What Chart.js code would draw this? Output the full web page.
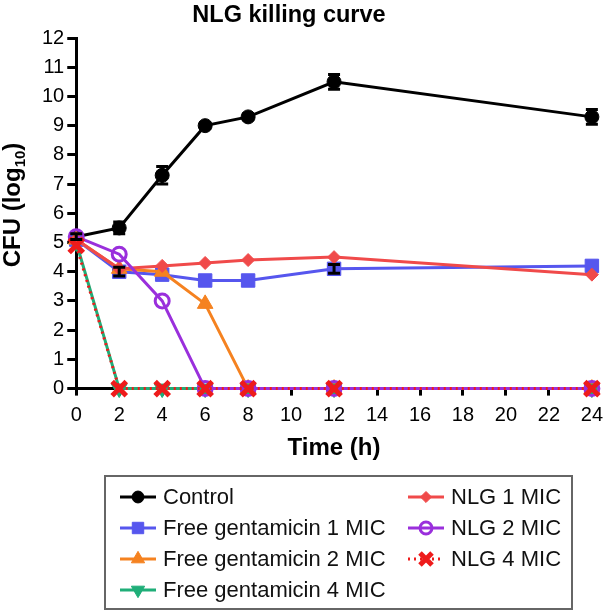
<!DOCTYPE html>
<html>
<head>
<meta charset="utf-8">
<script src="https://cdn.jsdelivr.net/npm/chart.js@4.4.1/dist/chart.umd.min.js"></script>
<style>
  body { margin: 0; background: #fff; font-family: 'Liberation Sans', Arial, sans-serif; }
  #wrap { position: relative; width: 611px; height: 612px; overflow: hidden; }
  #chartBox { position: absolute; left: 0; top: 0; width: 611px; height: 470px; }
  #legend {
    position: absolute; left: 104px; top: 475px; width: 465px; height: 131px;
    border: 2px solid #666;
  }
  .item { position: absolute; display: flex; align-items: center; font-size: 22px; color: #111; height: 24px; white-space: nowrap; }
  .item canvas { margin-right: 5px; }
</style>
</head>
<body>
<div id="wrap">
  <div id="chartBox"><canvas id="chart"></canvas></div>
  <div id="legend"></div>
</div>
<script>
// time points (h)
const hours = [0, 2, 4, 6, 8, 12, 24];
const xTicks = [0, 2, 4, 6, 8, 10, 12, 14, 16, 18, 20, 22, 24];
const yTicks = [0, 1, 2, 3, 4, 5, 6, 7, 8, 9, 10, 11, 12];

// CFU (log10) per group
const control = [5.2, 5.5, 7.3, 9.0, 9.3, 10.5, 9.3];
const controlErr = [0.1, 0.2, 0.3, 0.1, 0.1, 0.25, 0.25];
const freeGenta1 = [5.1, 4.0, 3.9, 3.7, 3.7, 4.1, 4.2];
const freeGenta1Err = [0, 0.15, 0, 0, 0, 0.15, 0];
const freeGenta2 = [5.1, 4.1, 4.0, 2.9, 0, 0, 0];
const freeGenta4 = [5.0, 0, 0, 0, 0, 0, 0];
const nlg1 = [5.1, 4.1, 4.2, 4.3, 4.4, 4.5, 3.9];
const nlg2 = [5.2, 4.6, 3.0, 0, 0, 0, 0];
const nlg4 = [4.9, 0, 0, 0, 0, 0, 0];

function pts(arr) {
    return arr.map((v, i) => ({ x: hours[i], y: v }));
}

const datasets = [
    { label: 'Control', data: pts(control), borderColor: '#000', backgroundColor: '#000',
      pointStyle: 'circle', pointRadius: 7, pointBorderWidth: 1, col: 0, row: 0 },
    { label: 'Free gentamicin 1 MIC', data: pts(freeGenta1), borderColor: '#5656ee', backgroundColor: '#5656ee',
      pointStyle: 'rect', pointRadius: 9.5, pointBorderWidth: 1, col: 0, row: 1 },
    { label: 'Free gentamicin 2 MIC', data: pts(freeGenta2), borderColor: '#f58220', backgroundColor: '#f58220',
      pointStyle: 'triangle', pointRadius: 9, pointBorderWidth: 1, col: 0, row: 2 },
    { label: 'Free gentamicin 4 MIC', data: pts(freeGenta4), borderColor: '#1fae78', backgroundColor: '#1fae78',
      pointStyle: 'triangle', pointRotation: 180, pointRadius: 9, pointBorderWidth: 1, col: 0, row: 3 },
    { label: 'NLG 1 MIC', data: pts(nlg1), borderColor: '#f04a4a', backgroundColor: '#f04a4a',
      pointStyle: 'rectRot', pointRadius: 6.5, pointBorderWidth: 1, col: 1, row: 0 },
    { label: 'NLG 2 MIC', data: pts(nlg2), borderColor: '#9a2fdc', backgroundColor: 'rgba(255,255,255,0)',
      pointStyle: 'circle', pointRadius: 7, pointBorderWidth: 3, col: 1, row: 1 },
    { label: 'NLG 4 MIC', data: pts(nlg4), borderColor: '#ee1b1b', backgroundColor: '#ee1b1b',
      pointStyle: 'crossRot', pointRadius: 10, pointBorderWidth: 5, borderDash: [2, 4], col: 1, row: 2 }
];

datasets.forEach((d, i) => {
    d.borderWidth = 3;
    d.pointBackgroundColor = d.backgroundColor;
    d.pointBorderColor = d.borderColor;
    d.fill = false;
    d.tension = 0;
    d.clip = false;
    d.order = 10 - i; // later groups sit on top, as in the original
});

// black error bars
const errorBars = {
    id: 'errorBars',
    afterDatasetsDraw(chart) {
        const ctx = chart.ctx;
        const ys = chart.scales.y;
        const sets = [[0, control, controlErr], [1, freeGenta1, freeGenta1Err]];
        ctx.save();
        ctx.strokeStyle = '#000';
        ctx.lineWidth = 3;
        sets.forEach(([idx, vals, errs]) => {
            chart.getDatasetMeta(idx).data.forEach((pt, i) => {
                if (!errs[i]) return;
                const top = ys.getPixelForValue(vals[i] + errs[i]);
                const bot = ys.getPixelForValue(vals[i] - errs[i]);
                ctx.beginPath();
                ctx.moveTo(pt.x, top); ctx.lineTo(pt.x, bot);
                ctx.moveTo(pt.x - 6, top); ctx.lineTo(pt.x + 6, top);
                ctx.moveTo(pt.x - 6, bot); ctx.lineTo(pt.x + 6, bot);
                ctx.stroke();
            });
        });
        ctx.restore();
    }
};

// chart title and y axis title (with subscript)
const titles = {
    id: 'titles',
    afterDraw(chart) {
        const ctx = chart.ctx;
        ctx.save();
        ctx.fillStyle = '#000';
        ctx.textAlign = 'center';
        ctx.textBaseline = 'alphabetic';
        ctx.font = 'bold 23.5px "Liberation Sans", Arial';
        ctx.fillText('NLG killing curve', 289, 22);

        ctx.translate(20, 205);
        ctx.rotate(-Math.PI / 2);
        ctx.textAlign = 'left';
        const big = 'bold 24px "Liberation Sans", Arial';
        const small = 'bold 15px "Liberation Sans", Arial';
        ctx.font = big;
        const w1 = ctx.measureText('CFU (log').width;
        const w3 = ctx.measureText(')').width;
        ctx.font = small;
        const w2 = ctx.measureText('10').width;
        let x = -(w1 + w2 + w3) / 2;
        ctx.font = big;
        ctx.fillText('CFU (log', x, 0);
        x += w1;
        ctx.font = small;
        ctx.fillText('10', x, 5);
        x += w2;
        ctx.font = big;
        ctx.fillText(')', x, 0);
        ctx.restore();
    }
};

const chart = new Chart(document.getElementById('chart'), {
    type: 'line',
    data: { datasets: datasets },
    plugins: [errorBars, titles],
    options: {
        responsive: true,
        maintainAspectRatio: false,
        animation: false,
        layout: { padding: { left: 39, right: 0, top: 38, bottom: 4 } },
        plugins: {
            legend: { display: false },
            tooltip: { enabled: false },
            title: { display: false }
        },
        scales: {
            x: {
                type: 'linear',
                min: 0, max: 24,
                afterBuildTicks: axis => { axis.ticks = xTicks.map(v => ({ value: v })); },
                grid: { drawOnChartArea: false, drawTicks: true, tickLength: 7, tickWidth: 3, tickColor: '#000' },
                border: { color: '#000', width: 3 },
                ticks: { color: '#000', font: { family: 'Liberation Sans', size: 20 }, padding: 8, maxRotation: 0 },
                title: { display: true, text: 'Time (h)', color: '#000',
                         font: { family: 'Liberation Sans', size: 24, weight: 'bold', lineHeight: 1.1 },
                         padding: { top: 0, bottom: 4 } }
            },
            y: {
                min: 0, max: 12,
                afterBuildTicks: axis => { axis.ticks = yTicks.map(v => ({ value: v })); },
                grid: { drawOnChartArea: false, drawTicks: true, tickLength: 9, tickWidth: 3, tickColor: '#000' },
                border: { color: '#000', width: 3 },
                ticks: { color: '#000', font: { family: 'Liberation Sans', size: 20 }, padding: 3 }
            }
        }
    }
});

// legend built from the datasets
const legend = document.getElementById('legend');
const rowCenters = [497, 528, 559, 590];
datasets.forEach(d => {
    const item = document.createElement('div');
    item.className = 'item';
    item.style.left = (d.col === 0 ? 12 : 300) + 'px';
    item.style.top = (rowCenters[d.row] - 12 - 477) + 'px';
    const c = document.createElement('canvas');
    c.width = 40; c.height = 24;
    const ctx = c.getContext('2d');
    ctx.strokeStyle = d.borderColor;
    ctx.lineWidth = 3;
    if (d.borderDash) ctx.setLineDash(d.borderDash);
    ctx.beginPath(); ctx.moveTo(2, 12); ctx.lineTo(38, 12); ctx.stroke();
    ctx.setLineDash([]);
    ctx.fillStyle = d.backgroundColor;
    ctx.lineWidth = d.pointBorderWidth;
    Chart.helpers.drawPoint(ctx, {
        pointStyle: d.pointStyle, radius: d.pointRadius * 0.85, rotation: d.pointRotation || 0,
        borderWidth: d.pointBorderWidth
    }, 20, 12);
    item.appendChild(c);
    const span = document.createElement('span');
    span.textContent = d.label;
    item.appendChild(span);
    legend.appendChild(item);
});
</script>
</body>
</html>
